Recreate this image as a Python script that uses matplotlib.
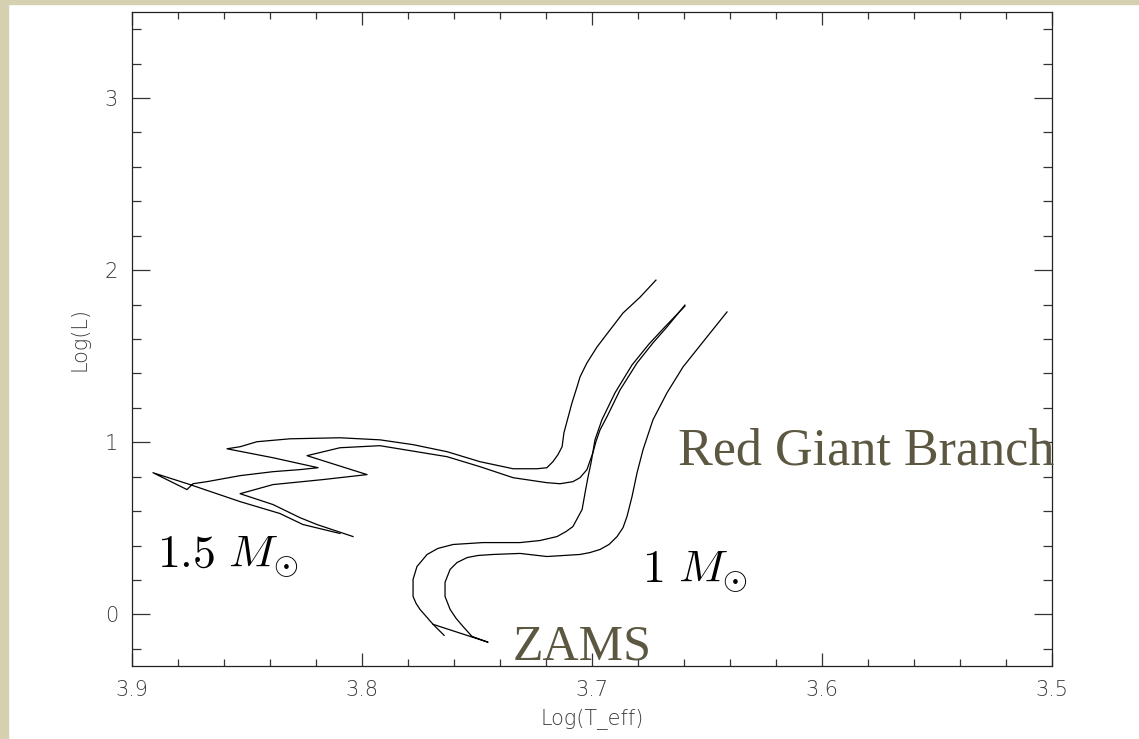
import matplotlib.pyplot as plt
from matplotlib.patches import Rectangle
from matplotlib.ticker import MultipleLocator

plt.rcParams['mathtext.fontset'] = 'cm'

# 1.5 Msun tracks (log Teff, log L)
t15a = [3.8096, 3.8257, 3.8357, 3.8530, 3.8748, 3.8909, 3.8761, 3.8735, 3.8674,
        3.8530, 3.8387, 3.8270, 3.8191, 3.8387, 3.8587, 3.8530, 3.8457, 3.8313,
        3.8096, 3.7922, 3.7778, 3.7630, 3.7487, 3.7343, 3.7239, 3.7196, 3.7170,
        3.7148, 3.7130, 3.7122, 3.7087, 3.7065, 3.7052, 3.7022, 3.6978, 3.6922,
        3.6865, 3.6791, 3.6722]
l15a = [0.470, 0.522, 0.586, 0.655, 0.754, 0.823, 0.725, 0.759, 0.771,
        0.806, 0.829, 0.841, 0.852, 0.910, 0.962, 0.974, 1.003, 1.020,
        1.026, 1.014, 0.986, 0.945, 0.887, 0.846, 0.846, 0.852, 0.887,
        0.928, 0.974, 1.055, 1.229, 1.322, 1.380, 1.461, 1.554, 1.652,
        1.751, 1.843, 1.942]

t15b = [3.8039, 3.8196, 3.8270, 3.8387, 3.8530, 3.8387, 3.8170, 3.7978, 3.8239,
        3.8096, 3.7922, 3.7630, 3.7487, 3.7343, 3.7196, 3.7139, 3.7083, 3.7052,
        3.7022, 3.6996, 3.6983, 3.6965, 3.6935, 3.6878, 3.6804, 3.6735, 3.6674,
        3.6596]
l15b = [0.452, 0.522, 0.562, 0.638, 0.701, 0.754, 0.783, 0.812, 0.922,
        0.968, 0.980, 0.916, 0.858, 0.794, 0.765, 0.759, 0.771, 0.794,
        0.841, 0.939, 1.003, 1.072, 1.148, 1.304, 1.461, 1.577, 1.670,
        1.797]

# 1 Msun tracks
t10a = [3.7643, 3.7691, 3.7748, 3.7765, 3.7778, 3.7778, 3.7761, 3.7717, 3.7670,
        3.7604, 3.7474, 3.7313, 3.7226, 3.7152, 3.7113, 3.7083, 3.7043, 3.7030,
        3.7017, 3.7004, 3.6987, 3.6957, 3.6900, 3.6826, 3.6752, 3.6683, 3.6596]
l10a = [-0.122, -0.058, 0.029, 0.064, 0.104, 0.203, 0.278, 0.348, 0.383,
        0.406, 0.417, 0.417, 0.429, 0.452, 0.481, 0.510, 0.609, 0.707,
        0.800, 0.881, 1.014, 1.130, 1.287, 1.449, 1.571, 1.670, 1.791]

t10b = [3.7691, 3.7452, 3.7522, 3.7561, 3.7591, 3.7617, 3.7639, 3.7639, 3.7617,
        3.7587, 3.7543, 3.7496, 3.7430, 3.7313, 3.7196, 3.7052, 3.7009, 3.6965,
        3.6926, 3.6891, 3.6865, 3.6848, 3.6826, 3.6804, 3.6778, 3.6735, 3.6674,
        3.6604, 3.6500, 3.6413]
l10b = [-0.058, -0.162, -0.128, -0.070, -0.023, 0.029, 0.104, 0.186, 0.261,
        0.301, 0.330, 0.342, 0.348, 0.354, 0.336, 0.348, 0.359, 0.377,
        0.406, 0.452, 0.504, 0.568, 0.684, 0.823, 0.957, 1.130, 1.287,
        1.438, 1.612, 1.757]

xticks = [3.9, 3.8, 3.7, 3.6, 3.5]
xlabels = ['3.9', '3.8', '3.7', '3.6', '3.5']
yticks = [0, 1, 2, 3]
ylabels = ['0', '1', '2', '3']

fig = plt.figure(figsize=(11.39, 7.39), dpi=100, facecolor='white')
beige = '#d4d0b0'
fig.patches.append(Rectangle((0, 0), 8 / 1139, 1, transform=fig.transFigure,
                             color=beige, zorder=0))
fig.patches.append(Rectangle((0, 1 - 4 / 739), 1, 4 / 739, transform=fig.transFigure,
                             color=beige, zorder=0))

ax = fig.add_axes([0.1159, 0.0988, 0.8077, 0.8850])

for t, l in [(t15a, l15a), (t15b, l15b), (t10a, l10a), (t10b, l10b)]:
    ax.plot(t, l, color='black', lw=0.9)

ax.set_xlim(3.9, 3.5)
ax.set_ylim(-0.3, 3.5)
ax.set_xticks(xticks)
ax.set_xticklabels(xlabels)
ax.set_yticks(yticks)
ax.set_yticklabels(ylabels)
ax.xaxis.set_minor_locator(MultipleLocator(0.02))
ax.yaxis.set_minor_locator(MultipleLocator(0.2))

ax.tick_params(which='both', direction='in', top=True, right=True,
               color='#333333', width=0.9, labelsize=15, labelcolor='#3a3a3a')
ax.tick_params(axis='x', which='major', length=9.4, pad=10)
ax.tick_params(axis='x', which='minor', length=4.7)
ax.tick_params(axis='y', which='major', length=13, pad=10)
ax.tick_params(axis='y', which='minor', length=6.5)
for lab in ax.get_xticklabels() + ax.get_yticklabels():
    lab.set_fontweight('light')
for s in ax.spines.values():
    s.set_color('#222222')
    s.set_linewidth(0.9)

ax.set_xlabel('Log(T_eff)', fontsize=15, color='#3a3a3a', labelpad=6,
              fontweight='light')
ax.set_ylabel('Log(L)', fontsize=15, color='#3a3a3a', labelpad=11,
              fontweight='light')

olive = '#5c5741'
ax.text(3.6626, 0.870, 'Red Giant Branch', family='Liberation Serif',
        fontsize=37.5, color=olive, ha='left', va='baseline')
ax.text(3.7343, -0.261, 'ZAMS', family='Liberation Serif',
        fontsize=36, color=olive, ha='left', va='baseline')
ax.text(3.8891, 0.272, r'$1.5\ M_{\odot}$', fontsize=33, color='black',
        ha='left', va='baseline')
ax.text(3.6783, 0.186, r'$1\ M_{\odot}$', fontsize=33, color='black',
        ha='left', va='baseline')

fig.savefig('out.png', dpi=100)
